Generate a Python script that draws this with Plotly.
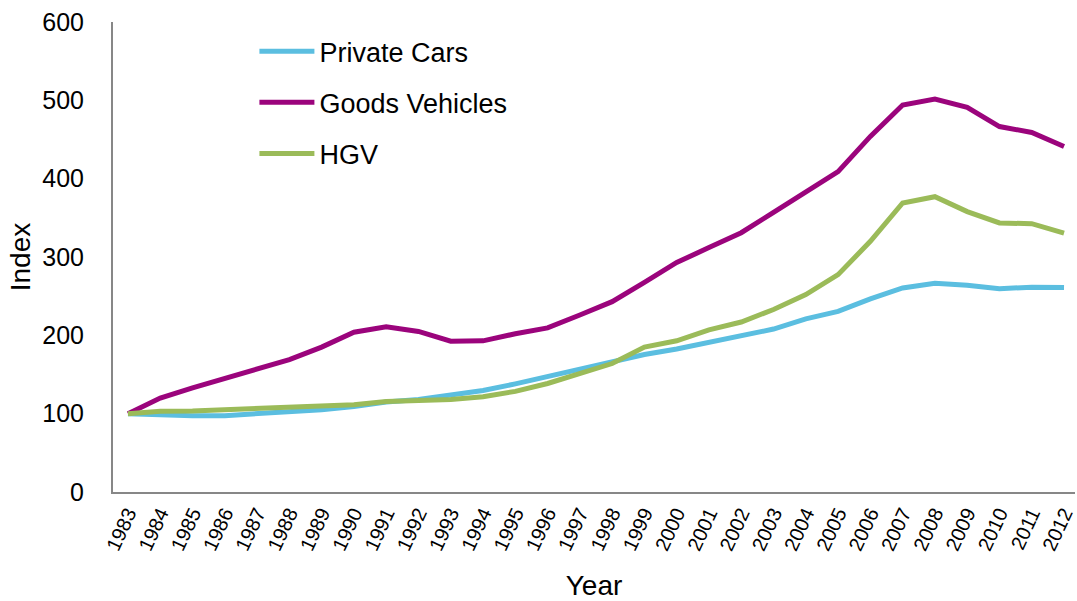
import plotly.graph_objects as go

years = [str(y) for y in range(1983, 2013)]

private_cars = [100, 98, 97.5, 97.5, 100, 102, 105, 109, 115, 118,
                123, 129.5, 138, 147.5, 158, 167, 175.5, 182.5, 191, 199.5,
                208, 221, 230.5, 246.5, 260.5, 266.5, 264, 259.5, 261.5, 261]
goods_vehicles = [100, 120, 133, 145, 157.5, 169, 185, 204, 211, 205,
                  192.5, 193, 202, 209.5, 226, 243, 267.5, 293, 312, 331,
                  357, 383.5, 409, 454, 494, 501.5, 491, 466.5, 459, 441]
hgv = [100, 103, 103.5, 105, 106.5, 107, 108.5, 111.5, 115.5, 117,
       118, 121.5, 128.5, 138.5, 150.5, 164, 185, 193, 207, 217,
       233, 252, 277.5, 320, 369, 377, 358, 343.5, 342.5, 330.5]

series = [
    ("Private Cars", private_cars, "#5BBEE0"),
    ("Goods Vehicles", goods_vehicles, "#9B047C"),
    ("HGV", hgv, "#9BBB59"),
]

fig = go.Figure()
for name, values, color in series:
    fig.add_trace(go.Scatter(
        x=years, y=values, name=name, mode="lines",
        legendgroup=name,
        line=dict(color=color, width=5),
    ))

sans = "Liberation Sans, Arial, sans-serif"
label_font = dict(family=sans, size=28, color="#000000")

fig.update_layout(
    width=1077, height=601,
    margin=dict(l=113, r=0, t=22, b=108.5),
    plot_bgcolor="white", paper_bgcolor="white",
    showlegend=True,
    legend=dict(
        x=0.147, y=0.989, xanchor="left", yanchor="top",
        font=dict(family=sans, size=27, color="#000000"),
        traceorder="grouped", tracegroupgap=13,
        itemwidth=55,
        bgcolor="rgba(0,0,0,0)",
    ),
    xaxis=dict(
        type="category",
        range=[-0.464, 29.34],
        showgrid=False, zeroline=False,
        showline=True, linecolor="#878787", linewidth=2,
        ticks="", tickangle=-65,
        tickfont=dict(family=sans, size=20, color="#000000"),
        title=dict(text="Year", font=label_font, standoff=25),
    ),
    yaxis=dict(
        range=[0, 600], dtick=100,
        showgrid=False, zeroline=False,
        showline=True, linecolor="#878787", linewidth=2,
        ticks="", ticklabelstandoff=22,
        tickfont=dict(family=sans, size=25, color="#000000"),
        title=dict(text="Index", font=label_font, standoff=3),
    ),
)

fig.write_html("out.html")
